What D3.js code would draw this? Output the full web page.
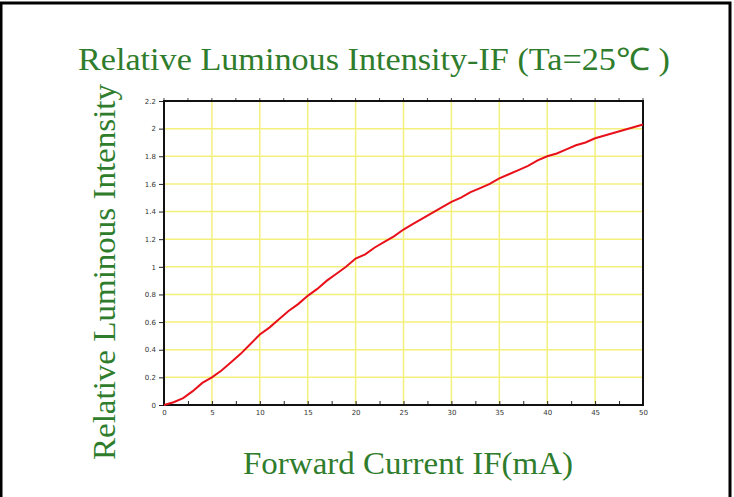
<!DOCTYPE html>
<html>
<head>
<meta charset="utf-8">
<script src="https://cdn.jsdelivr.net/npm/d3@7"></script>
<style>
  body { margin: 0; background: #fff; }
  #chart { width: 734px; height: 497px; }
</style>
</head>
<body>
<div id="chart"></div>
<script>
// forward current (mA) and relative luminous intensity
const currents = d3.range(0, 51);
const intensity = [0, 0.02, 0.05, 0.10, 0.16, 0.20, 0.25, 0.31, 0.37, 0.44,
    0.51, 0.56, 0.62, 0.68, 0.73, 0.79, 0.84, 0.90, 0.95, 1.00,
    1.06, 1.09, 1.14, 1.18, 1.22, 1.27, 1.31, 1.35, 1.39, 1.43,
    1.47, 1.50, 1.54, 1.57, 1.60, 1.64, 1.67, 1.70, 1.73, 1.77,
    1.80, 1.82, 1.85, 1.88, 1.90, 1.93, 1.95, 1.97, 1.99, 2.01, 2.03];
const xTicks = [0, 5, 10, 15, 20, 25, 30, 35, 40, 45, 50];
const yTicks = [0, 0.2, 0.4, 0.6, 0.8, 1, 1.2, 1.4, 1.6, 1.8, 2, 2.2];

const titleText = "Relative Luminous Intensity-IF\u00a0(Ta=25\u2103\u00a0)";
const xTitle = "Forward Current IF(mA)";
const yTitle = "Relative Luminous Intensity";

const width = 734, height = 497;
const plot = { left: 164, right: 643, top: 101, bottom: 405 };

const svg = d3.select("#chart")
    .append("svg")
    .attr("width", width)
    .attr("height", height);

// page frame
svg.append("path")
    .attr("d", "M1,500 V3 H730 V500")
    .attr("fill", "none")
    .attr("stroke", "#000")
    .attr("stroke-width", 3);

const x = d3.scaleLinear().domain([0, 50]).range([plot.left, plot.right]);
const y = d3.scaleLinear().domain([0, 2.2]).range([plot.bottom, plot.top]);

// grid
const grid = svg.append("g").attr("stroke", "#f4f07c").attr("stroke-width", 1.5);
grid.selectAll(".vx")
    .data(xTicks.slice(1, -1))
    .enter()
    .append("line")
    .attr("x1", d => x(d)).attr("x2", d => x(d))
    .attr("y1", plot.top).attr("y2", plot.bottom);
grid.selectAll(".hy")
    .data(yTicks.slice(1, -1))
    .enter()
    .append("line")
    .attr("x1", plot.left).attr("x2", plot.right)
    .attr("y1", d => y(d)).attr("y2", d => y(d));

// axes
const xAxis = d3.axisBottom(x)
    .tickValues(d3.range(0, 50.1, 2.5))
    .tickFormat(d => xTicks.includes(d) ? d : "")
    .tickSize(4);
const yAxis = d3.axisLeft(y)
    .tickValues(yTicks)
    .tickFormat(d3.format("~g"))
    .tickSize(5);

const gx = svg.append("g")
    .attr("transform", `translate(0,${plot.bottom})`)
    .call(xAxis);
gx.select(".domain").remove();
gx.selectAll(".tick line").attr("y1", -4).attr("y2", 0).attr("stroke", "#222");
gx.selectAll(".tick text")
    .attr("y", 5)
    .attr("font-family", "DejaVu Sans, sans-serif")
    .attr("font-size", 7)
    .attr("fill", "#333");

const gy = svg.append("g")
    .attr("transform", `translate(${plot.left},0)`)
    .call(yAxis);
gy.select(".domain").remove();
gy.selectAll(".tick line").attr("stroke", "#222");
gy.selectAll(".tick text")
    .attr("x", -8)
    .attr("font-family", "DejaVu Sans, sans-serif")
    .attr("font-size", 7)
    .attr("fill", "#333");

// top ticks
svg.append("g").selectAll("line")
    .data(d3.range(0, 50.1, 2.5))
    .enter()
    .append("line")
    .attr("x1", d => x(d)).attr("x2", d => x(d))
    .attr("y1", plot.top - 3).attr("y2", plot.top + 1)
    .attr("stroke", "#444");

// plot frame
svg.append("rect")
    .attr("x", plot.left).attr("y", plot.top)
    .attr("width", plot.right - plot.left)
    .attr("height", plot.bottom - plot.top)
    .attr("fill", "none")
    .attr("stroke", "#111")
    .attr("stroke-width", 2);

// curve
const line = d3.line()
    .x((d, i) => x(currents[i]))
    .y(d => y(d));
svg.append("path")
    .datum(intensity)
    .attr("d", line)
    .attr("fill", "none")
    .attr("stroke", "#e8111a")
    .attr("stroke-width", 2);

// titles
const green = "#2f7d2c";
svg.append("text")
    .attr("x", 78).attr("y", 70)
    .attr("textLength", 592)
    .attr("lengthAdjust", "spacingAndGlyphs")
    .attr("font-family", "Liberation Serif, serif")
    .attr("font-size", 31)
    .attr("fill", green)
    .text(titleText);

svg.append("text")
    .attr("x", 243).attr("y", 474)
    .attr("textLength", 330)
    .attr("lengthAdjust", "spacingAndGlyphs")
    .attr("font-family", "Liberation Serif, serif")
    .attr("font-size", 31)
    .attr("fill", green)
    .text(xTitle);

svg.append("text")
    .attr("transform", "translate(115,460) rotate(-90)")
    .attr("textLength", 376)
    .attr("lengthAdjust", "spacingAndGlyphs")
    .attr("font-family", "Liberation Serif, serif")
    .attr("font-size", 31)
    .attr("fill", green)
    .text(yTitle);
</script>
</body>
</html>
